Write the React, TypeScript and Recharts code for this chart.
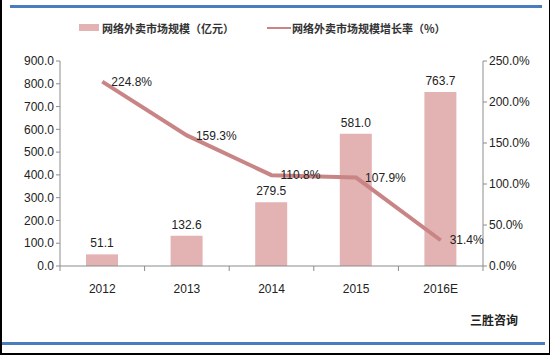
import { ComposedChart, Bar, Line, XAxis, YAxis, LabelList } from 'recharts';

const years = ['2012', '2013', '2014', '2015', '2016E'];
const marketSize = [51.1, 132.6, 279.5, 581.0, 763.7];
const growthRate = [224.8, 159.3, 110.8, 107.9, 31.4];
const leftTicks = [0, 100, 200, 300, 400, 500, 600, 700, 800, 900];
const rightTicks = [0, 50, 100, 150, 200, 250];

const data = years.map((year, i) => ({ year, size: marketSize[i], rate: growthRate[i] }));

const W = 550;
const H = 355;
const PLOT_LEFT = 60;
const PLOT_RIGHT = 483;
const BAND = (PLOT_RIGHT - PLOT_LEFT) / years.length;

const BAR_COLOR = '#e3b2b2';
const LINE_COLOR = '#c98585';
const AXIS_COLOR = '#8c8c8c';
const NUM_FONT = '"Liberation Sans", "DejaVu Sans", sans-serif';
const CJK_FONT = '"Noto Sans CJK SC", sans-serif';

function XTick(props: any) {
  const { x, y, payload, index } = props;
  const last = index === years.length - 1;
  return (
    <g>
      <line x1={x - BAND / 2} x2={x - BAND / 2} y1={y - 8} y2={y - 3} stroke={AXIS_COLOR} />
      {last && <line x1={x + BAND / 2} x2={x + BAND / 2} y1={y - 8} y2={y - 3} stroke={AXIS_COLOR} />}
      <text x={x} y={y + 19} textAnchor="middle" fontSize={12} fill="#222" fontFamily={NUM_FONT}>
        {payload.value}
      </text>
    </g>
  );
}

function RateLabel(props: any) {
  const { x, y, value } = props;
  return (
    <text x={x + 9} y={y + 1} dominantBaseline="middle" fontSize={12} fill="#222" fontFamily={NUM_FONT}>
      {`${Number(value).toFixed(1)}%`}
    </text>
  );
}

function TopLegend() {
  return (
    <div style={{ position: 'absolute', top: 20, left: 0, width: W, height: 16, fontFamily: CJK_FONT, fontSize: 11, fontWeight: 700, color: '#333' }}>
      <div style={{ position: 'absolute', left: 77, top: 4, width: 20, height: 7, background: BAR_COLOR }} />
      <div style={{ position: 'absolute', left: 100, top: 0, lineHeight: '16px', whiteSpace: 'nowrap' }}>网络外卖市场规模（亿元）</div>
      <div style={{ position: 'absolute', left: 265, top: 7, width: 24, height: 2, background: LINE_COLOR }} />
      <div style={{ position: 'absolute', left: 290, top: 0, lineHeight: '16px', whiteSpace: 'nowrap' }}>网络外卖市场规模增长率（%）</div>
    </div>
  );
}

export default function App() {
  return (
    <div style={{ position: 'fixed', left: 0, top: 0, width: W, height: H, background: '#fff', boxSizing: 'border-box', borderLeft: '2px solid #000', borderRight: '1px solid #000', borderBottom: '2px solid #000' }}>
      <div style={{ position: 'absolute', left: 8, top: 5, width: 532, height: 3, background: '#4a7cc2' }} />
      <div style={{ position: 'absolute', left: 0, top: 342, width: 543, height: 3, background: '#4a7cc2' }} />
      <TopLegend />
      <div style={{ position: 'absolute', left: -2, top: 0 }}>
        <ComposedChart width={W} height={H} data={data} margin={{ top: 61, right: 0, bottom: 59, left: 0 }}>
          <XAxis
            dataKey="year"
            stroke={AXIS_COLOR}
            tickLine={false}
            tick={<XTick />}
            height={30}
            interval={0}
          />
          <YAxis
            yAxisId="left"
            domain={[0, 900]}
            ticks={leftTicks}
            width={60}
            stroke={AXIS_COLOR}
            tickSize={4}
            tick={{ fill: '#222', fontSize: 12, fontFamily: NUM_FONT }}
            tickFormatter={(v: number) => v.toFixed(1)}
          />
          <YAxis
            yAxisId="right"
            orientation="right"
            domain={[0, 250]}
            ticks={rightTicks}
            width={67}
            stroke={AXIS_COLOR}
            tickSize={4}
            tick={{ fill: '#222', fontSize: 12, fontFamily: NUM_FONT, textAnchor: 'start' }}
            tickFormatter={(v: number) => `${v.toFixed(1)}%`}
          />
          <Bar yAxisId="left" dataKey="size" barSize={32} fill={BAR_COLOR} isAnimationActive={false}>
            <LabelList
              dataKey="size"
              position="top"
              offset={7}
              fontSize={12}
              fill="#222"
              fontFamily={NUM_FONT}
              formatter={(v: any) => Number(v).toFixed(1)}
            />
          </Bar>
          <Line
            yAxisId="right"
            dataKey="rate"
            stroke={LINE_COLOR}
            strokeWidth={4}
            dot={false}
            isAnimationActive={false}
          >
            <LabelList dataKey="rate" content={<RateLabel />} />
          </Line>
        </ComposedChart>
      </div>
      <div style={{ position: 'absolute', left: 468, top: 311, fontFamily: CJK_FONT, fontSize: 12, fontWeight: 700, color: '#222' }}>三胜咨询</div>
    </div>
  );
}
